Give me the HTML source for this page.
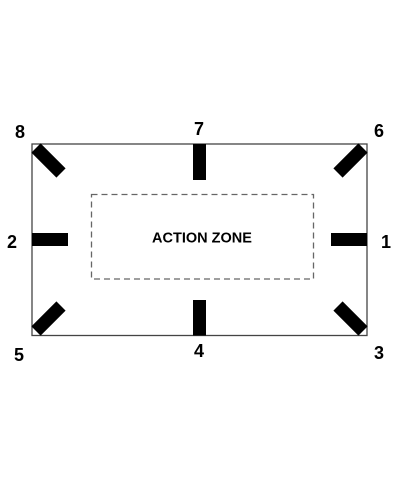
<!DOCTYPE html>
<html><head><meta charset="utf-8"><style>
html,body{margin:0;padding:0;background:#fff;width:400px;height:480px;overflow:hidden}
text{font-family:"Liberation Sans",Arial,sans-serif;font-weight:bold;fill:#000}
</style></head><body>
<svg width="400" height="480" viewBox="0 0 400 480">
<rect x="32" y="144" width="335" height="191.5" fill="none" stroke="#444" stroke-width="1.3"/>
<rect x="91.5" y="194.5" width="222" height="84.5" fill="none" stroke="#666" stroke-width="1.3" stroke-dasharray="6,4"/>
<text x="202" y="242.5" font-size="14.5" text-anchor="middle">ACTION ZONE</text>
<g fill="#000">
<rect x="193" y="144" width="13" height="36"/>
<rect x="193" y="300" width="13" height="35.5"/>
<rect x="32" y="233" width="36" height="13"/>
<rect x="331" y="233" width="36" height="13"/>
</g>
<g stroke="#000" stroke-width="13">
<line x1="36" y1="148" x2="61" y2="173"/>
<line x1="363" y1="148" x2="338" y2="173"/>
<line x1="36" y1="331" x2="61" y2="306"/>
<line x1="363" y1="331" x2="338" y2="306"/>
</g>
<g font-size="18" text-anchor="middle">
<text x="20" y="138">8</text>
<text x="199" y="135">7</text>
<text x="379" y="137">6</text>
<text x="12" y="248">2</text>
<text x="386" y="248">1</text>
<text x="19" y="361">5</text>
<text x="199" y="357">4</text>
<text x="379" y="359">3</text>
</g>
</svg>
</body></html>
